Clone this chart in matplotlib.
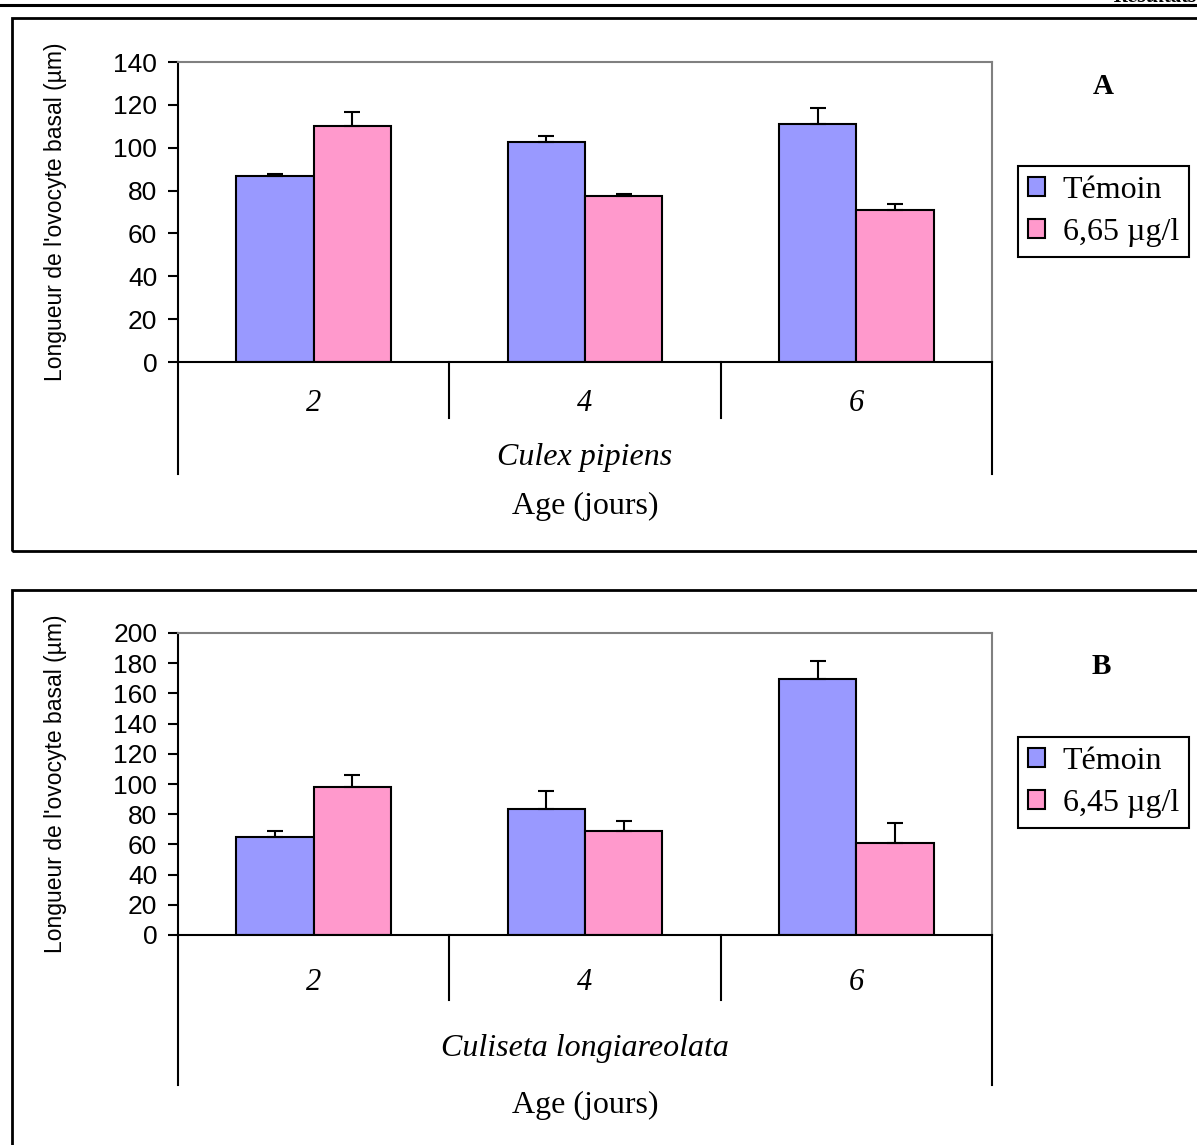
import numpy as np
import matplotlib.pyplot as plt
from matplotlib.patches import Rectangle
from matplotlib.lines import Line2D

W, H = 1197, 1145

ages = ['2', '4', '6']

# Culex pipiens
temoin_a = [86.8, 102.7, 111.1]
temoin_a_err = [1.0, 2.8, 7.4]
dose_a = [110.1, 77.5, 70.9]
dose_a_err = [6.5, 1.0, 2.8]

# Culiseta longiareolata
temoin_b = [65.1, 83.6, 169.7]
temoin_b_err = [4.0, 12.0, 12.0]
dose_b = [98.2, 69.1, 61.1]
dose_b_err = [8.0, 6.6, 13.3]

BLUE = '#9999FF'
PINK = '#FF99CC'
GREY = '#808080'
SANS = 'Liberation Sans'
SERIF = 'Liberation Serif'


def fig_xy(x, y):
    return x / W, 1 - y / H


def panel(fig, top, bottom, temoin, temoin_err, dose, dose_err, ymax, ystep,
          species, dose_label, letter, lay):
    l, b = fig_xy(178, bottom)
    ax = fig.add_axes([l, b, (992 - 178) / W, (bottom - top) / H])
    x = np.arange(len(ages)) + 0.5
    w = 0.285
    ax.bar(x - w / 2, temoin, w, color=BLUE, edgecolor='black', linewidth=1.5,
           label='Témoin', zorder=2)
    ax.bar(x + w / 2, dose, w, color=PINK, edgecolor='black', linewidth=1.5,
           label=dose_label, zorder=2)
    ax.errorbar(x - w / 2, temoin, yerr=[np.zeros(3), temoin_err], fmt='none',
                ecolor='black', elinewidth=1.5, capsize=6, capthick=1.5, zorder=3)
    ax.errorbar(x + w / 2, dose, yerr=[np.zeros(3), dose_err], fmt='none',
                ecolor='black', elinewidth=1.5, capsize=6, capthick=1.5, zorder=3)

    ax.set_xlim(0, 3)
    ax.set_ylim(0, ymax)
    ax.set_yticks(np.arange(0, ymax + 1, ystep))
    ax.set_xticks([])
    ax.tick_params(axis='y', direction='out', length=7, width=1.5, pad=8,
                   labelsize=19)
    for t in ax.get_yticklabels():
        t.set_fontfamily(SANS)
    for s in ('left', 'bottom'):
        ax.spines[s].set_color('black')
        ax.spines[s].set_linewidth(1.5)
    for s in ('top', 'right'):
        ax.spines[s].set_color(GREY)
        ax.spines[s].set_linewidth(1.5)

    ax.set_ylabel("Longueur de l'ovocyte basal (µm)", fontfamily=SANS,
                  fontsize=16.5)
    ax.yaxis.set_label_coords(lay['ylab'], 0.5)

    # category separators below the axis
    tr = ax.get_xaxis_transform()
    for xv in (1, 2):
        ax.plot([xv, xv], [0, lay['inner']], color='black', lw=1.5,
                transform=tr, clip_on=False)
    for xv in (0, 3):
        ax.plot([xv, xv], [0, lay['outer']], color='black', lw=1.5,
                transform=tr, clip_on=False)
    for xi, a in zip(x, ages):
        ax.text(xi, lay['age'], a, transform=tr, ha='center', va='center',
                fontfamily=SERIF, fontstyle='italic', fontsize=22)
    ax.text(1.5, lay['sp'], species, transform=tr, ha='center', va='center',
            fontfamily=SERIF, fontstyle='italic', fontsize=23)
    ax.text(1.5, lay['xlab'], 'Age (jours)', transform=tr, ha='center',
            va='center', fontfamily=SERIF, fontsize=23)

    lx, ly = fig_xy(*lay['letter'])
    fig.text(lx, ly, letter, ha='center', va='center', fontfamily=SERIF,
             fontweight='bold', fontsize=21)

    leg = ax.legend(loc='upper left', bbox_to_anchor=fig_xy(1018, lay['leg']),
                    bbox_transform=fig.transFigure, borderaxespad=0,
                    handlelength=0.55, handleheight=0.55, handletextpad=0.55,
                    labelspacing=0.42, borderpad=0.3, fancybox=False,
                    framealpha=1, edgecolor='black',
                    prop={'family': SERIF, 'size': 23})
    leg.get_frame().set_linewidth(1.5)
    return ax


fig = plt.figure(figsize=(W / 100, H / 100), dpi=100)

# page header rule and clipped running title
fig.add_artist(Line2D([0, 1], [1 - 5 / H] * 2, color='black', lw=2.2,
                      transform=fig.transFigure))
fig.text(1, 1 - 2 / H, 'Résultats', ha='right', va='baseline',
         fontfamily=SERIF, fontstyle='italic', fontweight='bold', fontsize=16)

# panel frames
x0, y0 = fig_xy(12, 551)
fig.add_artist(Rectangle((x0, y0), 1.1, (551 - 18) / H, fill=False,
                         edgecolor='black', lw=2, transform=fig.transFigure))
x0, y0 = fig_xy(12, 1160)
fig.add_artist(Rectangle((x0, y0), 1.1, (1160 - 590) / H, fill=False,
                         edgecolor='black', lw=2, transform=fig.transFigure))

panel(fig, 62, 362, temoin_a, temoin_a_err, dose_a, dose_a_err, 140, 20,
      'Culex pipiens', '6,65 µg/l', 'A',
      dict(ylab=-0.136, inner=-0.187, outer=-0.373, age=-0.137, sp=-0.32,
           xlab=-0.483, letter=(1103, 86), leg=166))
panel(fig, 633, 935, temoin_b, temoin_b_err, dose_b, dose_b_err, 200, 20,
      'Culiseta longiareolata', '6,45 µg/l', 'B',
      dict(ylab=-0.136, inner=-0.215, outer=-0.497, age=-0.156, sp=-0.377,
           xlab=-0.566, letter=(1101, 666), leg=737))

fig.savefig('out.png', dpi=100)
